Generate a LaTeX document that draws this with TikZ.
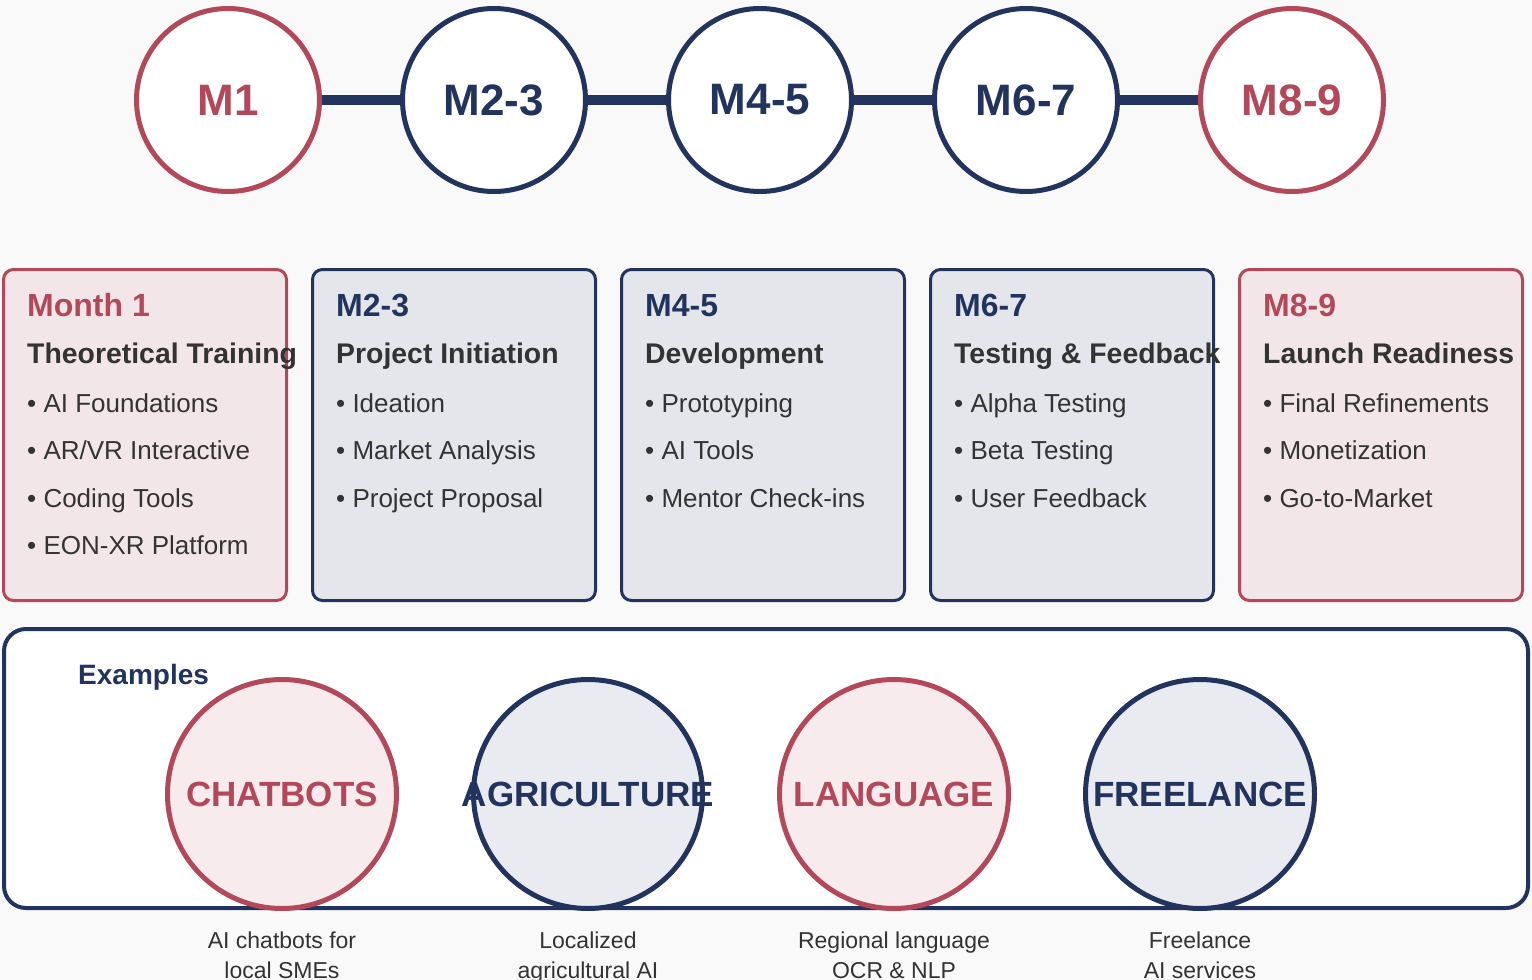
\documentclass[tikz,border=0pt]{standalone}
\usepackage{fontspec}
\setmainfont{Liberation Sans}
\definecolor{crimson}{RGB}{178,72,90}
\definecolor{navy}{RGB}{34,52,94}
\definecolor{ink}{RGB}{51,51,51}
\definecolor{pagebg}{RGB}{249,249,249}
\definecolor{crimsonfill}{RGB}{243,230,233}
\definecolor{navyfill}{RGB}{229,230,235}
\definecolor{crimsonsoft}{RGB}{247,235,238}
\definecolor{navysoft}{RGB}{233,235,240}
\begin{document}
\begin{tikzpicture}[x=1pt,y=-1pt,
    milestone/.style={circle, draw=#1, line width=5pt, fill=white, minimum size=183pt,
      inner sep=0pt, text=#1, font=\fontsize{44}{48}\selectfont\bfseries},
    card/.style={draw=#1, line width=3pt, rounded corners=10pt, anchor=north west,
      minimum width=283pt, minimum height=331pt},
    cardtitle/.style={anchor=base west, inner sep=0pt, font=\fontsize{32}{36}\selectfont\bfseries},
    cardsub/.style={anchor=base west, inner sep=0pt, text=ink, font=\fontsize{28.4}{32}\selectfont\bfseries},
    carditem/.style={anchor=base west, inner sep=0pt, text=ink, font=\fontsize{26}{30}\selectfont},
    example/.style={circle, draw=#1, line width=5pt, minimum size=229pt},
    exlabel/.style={inner sep=0pt, font=\fontsize{35}{40}\selectfont\bfseries},
    caption/.style={anchor=base, inner sep=0pt, align=center, text=ink,
      font=\fontsize{23}{30}\selectfont}]
  \fill[pagebg] (0,0) rectangle (1532,980);
  \useasboundingbox (0,0) rectangle (1532,980);

  % timeline
  \node[milestone=crimson] (m1) at (228,100) {M1};
  \node[milestone=navy] (m23) at (494,100) {M2-3};
  \node[milestone=navy] (m45) at (760,100) {M4-5};
  \node[milestone=navy] (m67) at (1026,100) {M6-7};
  \node[milestone=crimson] (m89) at (1292,100) {M8-9};
  \draw[navy, line width=10pt] (m1) -- (m23) (m23) -- (m45) (m45) -- (m67) (m67) -- (m89);

  % phase cards
  \node[card=crimson, fill=crimsonfill] (c1) at (2,268) {};
  \node[cardtitle, text=crimson] (c1-title) at (27,316) {Month 1};
  \node[cardsub] (c1-sub) at (27,363) {Theoretical Training};
  \foreach \item [count=\k] in {AI Foundations, AR/VR Interactive, Coding Tools, EON-XR Platform}
    \node[carditem] (c1-\k) at (27,{412+47.6*(\k-1)}) {• \item};

  \node[card=navy, fill=navyfill] (c2) at (311,268) {};
  \node[cardtitle, text=navy] (c2-title) at (336,316) {M2-3};
  \node[cardsub] (c2-sub) at (336,363) {Project Initiation};
  \foreach \item [count=\k] in {Ideation, Market Analysis, Project Proposal}
    \node[carditem] (c2-\k) at (336,{412+47.6*(\k-1)}) {• \item};

  \node[card=navy, fill=navyfill] (c3) at (620,268) {};
  \node[cardtitle, text=navy] (c3-title) at (645,316) {M4-5};
  \node[cardsub] (c3-sub) at (645,363) {Development};
  \foreach \item [count=\k] in {Prototyping, AI Tools, Mentor Check-ins}
    \node[carditem] (c3-\k) at (645,{412+47.6*(\k-1)}) {• \item};

  \node[card=navy, fill=navyfill] (c4) at (929,268) {};
  \node[cardtitle, text=navy] (c4-title) at (954,316) {M6-7};
  \node[cardsub] (c4-sub) at (954,363) {Testing \& Feedback};
  \foreach \item [count=\k] in {Alpha Testing, Beta Testing, User Feedback}
    \node[carditem] (c4-\k) at (954,{412+47.6*(\k-1)}) {• \item};

  \node[card=crimson, fill=crimsonfill] (c5) at (1238,268) {};
  \node[cardtitle, text=crimson] (c5-title) at (1263,316) {M8-9};
  \node[cardsub] (c5-sub) at (1263,363) {Launch Readiness};
  \foreach \item [count=\k] in {Final Refinements, Monetization, Go-to-Market}
    \node[carditem] (c5-\k) at (1263,{412+47.6*(\k-1)}) {• \item};

  % examples
  \node[draw=navy, fill=white, line width=4pt, rounded corners=22pt,
    minimum width=1524pt, minimum height=279pt] (exbox) at (766,768.5) {};
  \node[anchor=base west, inner sep=0pt, text=navy, font=\fontsize{28}{32}\selectfont\bfseries]
    (extitle) at (78,684) {Examples};

  \node[example=crimson, fill=crimsonsoft] (ex1) at (282,794) {};
  \node[exlabel, text=crimson] (ex1-label) at (ex1) {CHATBOTS};
  \node[caption] (ex1-cap) at (282,978) {AI chatbots for\\local SMEs};

  \node[example=navy, fill=navysoft] (ex2) at (588,794) {};
  \node[exlabel, text=navy] (ex2-label) at (ex2) {AGRICULTURE};
  \node[caption] (ex2-cap) at (588,978) {Localized\\agricultural AI};

  \node[example=crimson, fill=crimsonsoft] (ex3) at (894,794) {};
  \node[exlabel, text=crimson] (ex3-label) at (ex3) {LANGUAGE};
  \node[caption] (ex3-cap) at (894,978) {Regional language\\OCR \& NLP};

  \node[example=navy, fill=navysoft] (ex4) at (1200,794) {};
  \node[exlabel, text=navy] (ex4-label) at (ex4) {FREELANCE};
  \node[caption] (ex4-cap) at (1200,978) {Freelance\\AI services};
\end{tikzpicture}
\end{document}
